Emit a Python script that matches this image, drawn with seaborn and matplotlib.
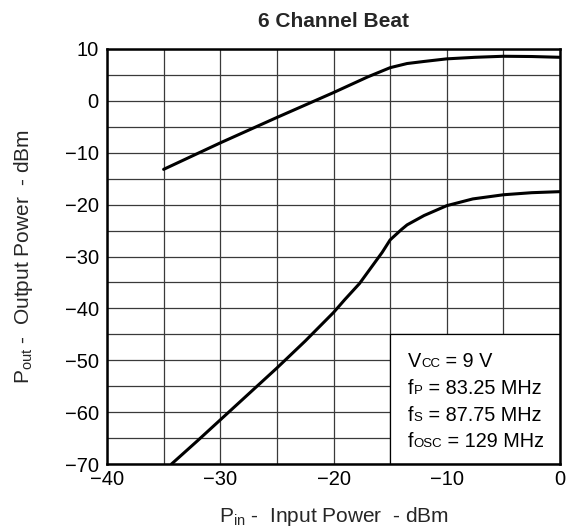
import numpy as np
import pandas as pd
import seaborn as sns
import matplotlib.pyplot as plt
from matplotlib.patches import Rectangle
from matplotlib.offsetbox import TextArea, HPacker, VPacker, AnnotationBbox

# input power (dBm) and output power (dBm)
pin_fund = [-35, -30, -25, -20, -17, -15, -13.5, -12, -10, -7.5, -5, -2.5, 0]
pout_fund = [-13.2, -8.1, -3.2, 1.6, 4.6, 6.4, 7.2, 7.6, 8.1, 8.4, 8.6, 8.55, 8.4]

pin_beat = [-34.3, -32, -30, -27.5, -25, -22.5, -20, -19, -17.7, -16.5, -15.7, -15,
            -14, -13.5, -12, -10, -7.7, -5, -2.5, 0]
pout_beat = [-70, -65.5, -61.5, -56.5, -51.5, -46.3, -40.8, -38.3, -35.2, -31.6, -29.2,
             -26.8, -24.8, -23.9, -22.1, -20.2, -18.9, -18.1, -17.7, -17.5]

xticks = [-40, -30, -20, -10, 0]
yticks = [10, 0, -10, -20, -30, -40, -50, -60, -70]
# (symbol, subscript, rest)
notes = [('V', 'CC', ' = 9 V'),
         ('f', 'P', ' = 83.25 MHz'),
         ('f', 'S', ' = 87.75 MHz'),
         ('f', 'OSC', ' = 129 MHz')]

sns.set_theme(style='white')
plt.rcParams['font.family'] = ['Liberation Sans', 'DejaVu Sans']
plt.rcParams['mathtext.fontset'] = 'custom'
plt.rcParams['mathtext.rm'] = 'Liberation Sans'
plt.rcParams['mathtext.it'] = 'Liberation Sans:italic'
plt.rcParams['mathtext.bf'] = 'Liberation Sans:bold'

df1 = pd.DataFrame({'pin': pin_fund, 'pout': pout_fund})
df2 = pd.DataFrame({'pin': pin_beat, 'pout': pout_beat})

fig = plt.figure(figsize=(5.78, 5.29), dpi=100)
ax = fig.add_axes([107/578, 65/529, 453/578, 415/529])

ax.set_xlim(-40, 0)
ax.set_ylim(-70, 10)
ax.set_xticks(np.arange(-40, 1, 5), minor=True)
ax.set_yticks(np.arange(-70, 11, 5), minor=True)
ax.grid(True, which='both', color='#3a3a3a', lw=0.9, zorder=0)
ax.set_axisbelow(True)

# white panel for the condition text
ax.add_patch(Rectangle((-15, -70), 15, 25, facecolor='white', edgecolor='black',
                       lw=0.9, zorder=1))

sns.lineplot(data=df1, x='pin', y='pout', ax=ax, color='black', lw=2.2, zorder=3)
sns.lineplot(data=df2, x='pin', y='pout', ax=ax, color='black', lw=2.2, zorder=3)

ax.set_xticks(xticks)
ax.set_yticks(yticks)
ax.tick_params(axis='both', which='both', length=0, labelsize=14.5, colors='black')
ax.tick_params(axis='y', pad=6)
ax.tick_params(axis='x', pad=4.5)
for s in ax.spines.values():
    s.set_color('black')
    s.set_linewidth(1.8)
    s.set_zorder(4)

ax.set_title('6 Channel Beat', fontsize=15, fontweight='bold', pad=16)
ax.set_xlabel(r'P$_{\mathregular{in}}$ -  Input Power  - dBm', fontsize=15, labelpad=11)
ax.set_ylabel(r'P$_{\mathregular{out}}$ -  Output Power  - dBm', fontsize=15, labelpad=21)

rows = []
for sym, sub, rest in notes:
    rows.append(HPacker(children=[TextArea(sym, textprops=dict(size=14.3, color='black')),
                                  TextArea(sub, textprops=dict(size=9.5, color='black')),
                                  TextArea(rest, textprops=dict(size=14.3, color='black'))],
                        align='baseline', pad=0, sep=0))
box = VPacker(children=rows, align='left', pad=0, sep=5.5)
ab = AnnotationBbox(box, (-13.4, -48.5), xycoords='data', box_alignment=(0, 1),
                    frameon=False, pad=0, zorder=5)
ax.add_artist(ab)

fig.savefig('out.png', dpi=100)
